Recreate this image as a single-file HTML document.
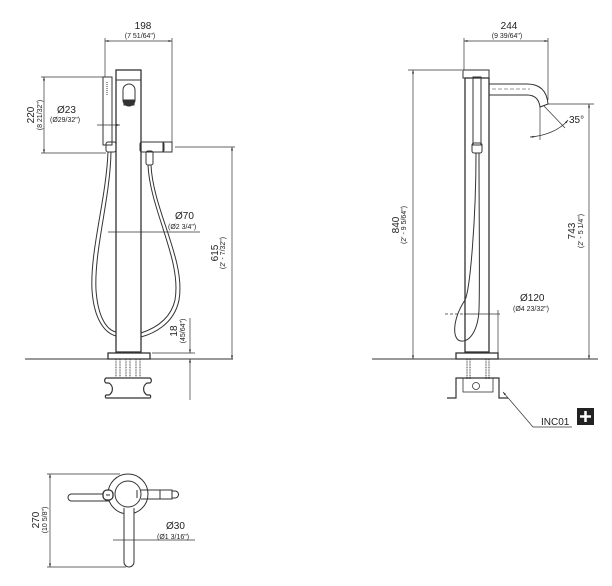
<!DOCTYPE html>
<html><head><meta charset="utf-8"><style>
html,body{margin:0;padding:0;background:#fff;}
svg{display:block;}
text{font-family:"Liberation Sans",sans-serif;fill:#222;}
.b{font-size:10px;}
.s{font-size:7px;}
</style></head><body>
<svg width="612" height="586" viewBox="0 0 612 586" xmlns="http://www.w3.org/2000/svg">
<defs>
<marker id="a" viewBox="0 0 10 10" refX="10" refY="5" markerWidth="5" markerHeight="5" orient="auto-start-reverse"><path d="M0,2L10,5L0,8z" fill="#333"/></marker>
</defs>
<g fill="none" stroke="#333" stroke-width="1">
<!-- LEFT VIEW -->
<line x1="25" y1="359" x2="233" y2="359"/>
<rect x="116" y="70" width="25" height="282" stroke-width="1.3"/>
<line x1="116" y1="80" x2="141" y2="80"/>
<rect x="123" y="84" width="12" height="22" rx="6"/>
<path d="M124,100h10v5h-10z" fill="#333"/>
<rect x="103" y="77" width="9" height="68"/>
<line x1="107" y1="82" x2="107" y2="96" stroke-dasharray="1,1"/>
<rect x="106" y="142" width="10" height="10" rx="2"/>
<rect x="140" y="142" width="24" height="10" rx="2"/>
<rect x="163" y="142" width="9" height="10"/>
<rect x="146" y="151" width="7" height="14" rx="2"/>
<path d="M108,152 C106,200 90,250 92,290 C94,320 105,333 116,336"/>
<path d="M111,152 C110,200 94,250 96,290 C98,318 107,330 116,332"/>
<path d="M148,165 C150,210 182,260 175,300 C170,322 150,330 141,333"/>
<path d="M151,165 C153,210 186,260 179,300 C174,325 152,334 141,337"/>
<rect x="108" y="353" width="42" height="6" stroke-width="1.3"/>
<path d="M116,359v18M120,359v18M126,359v18M130,359v18M136,359v18M140,359v18" stroke-dasharray="1,0.6" stroke-width="0.9"/>
<path d="M106,378h44a3,3 0 0 1 0,5h-3a7,7 0 0 0 0,12h3a2,2 0 0 1 0,3h-44a2,2 0 0 1 0,-3h3a7,7 0 0 0 0,-12h-3a3,3 0 0 1 0,-5z" stroke-width="1.2"/>
<!-- dims left -->
<line x1="105" y1="41" x2="172" y2="41" marker-start="url(#a)" marker-end="url(#a)" stroke-width="0.7"/>
<line x1="105" y1="38" x2="105" y2="77" stroke-width="0.7"/>
<line x1="172" y1="38" x2="172" y2="145" stroke-width="0.7"/>
<line x1="44" y1="77" x2="44" y2="153" marker-start="url(#a)" marker-end="url(#a)" stroke-width="0.7"/>
<line x1="41" y1="77" x2="103" y2="77" stroke-width="0.7"/>
<line x1="41" y1="153" x2="106" y2="153" stroke-width="0.7"/>
<line x1="97" y1="125" x2="120" y2="125" stroke-width="0.7" marker-end="url(#a)"/>
<line x1="175" y1="147" x2="235" y2="147" stroke-width="0.7"/>
<line x1="232" y1="147" x2="232" y2="359" marker-start="url(#a)" marker-end="url(#a)" stroke-width="0.7"/>
<line x1="108" y1="232" x2="200" y2="232" stroke-width="0.7"/>
<line x1="190" y1="318" x2="190" y2="353" stroke-width="0.7" marker-end="url(#a)"/>
<line x1="190" y1="359" x2="190" y2="400" stroke-width="0.7" marker-start="url(#a)"/>
<line x1="152" y1="353" x2="195" y2="353" stroke-width="0.7"/>
<!-- RIGHT VIEW -->
<line x1="372" y1="359" x2="598" y2="359"/>
<rect x="465" y="78" width="24" height="274" stroke-width="1.3"/>
<path d="M463,70h26v8h-26z"/>
<rect x="473" y="77" width="8" height="68"/>
<rect x="472" y="143" width="10" height="10" rx="2"/>
<path d="M489,84h38c14,0 20,8 21,20l-8,3c-1,-8 -5,-12 -13,-12h-38z"/>
<line x1="492" y1="89" x2="530" y2="89" stroke-dasharray="4,2" stroke-width="0.5"/>
<path d="M476,153 C476,220 470,290 465,300 C452,320 452,340 461,341 C470,342 478,330 479,310 C480,280 479,220 479,153"/>
<rect x="456" y="353" width="42" height="6" stroke-width="1.3"/>
<path d="M467,359v20M470,359v20M486,359v20M489,359v20" stroke-dasharray="1,0.6" stroke-width="0.9"/>
<path d="M447,398h9v-20h43v20h9" stroke-width="1.2"/>
<rect x="463" y="378" width="30" height="14" stroke-width="0.8"/>
<circle cx="476" cy="386" r="3.5" stroke-width="0.8"/>
<line x1="464" y1="314" x2="500" y2="314" stroke-width="0.7"/>
<line x1="445" y1="314" x2="464" y2="314" stroke-width="0.7" stroke-dasharray="3,2"/>
<line x1="498" y1="310" x2="498" y2="353" stroke-width="0.7"/>
<line x1="464" y1="41" x2="548" y2="41" marker-start="url(#a)" marker-end="url(#a)" stroke-width="0.7"/>
<line x1="464" y1="38" x2="464" y2="70" stroke-width="0.7"/>
<line x1="548" y1="38" x2="548" y2="100" stroke-width="0.7"/>
<line x1="413" y1="70" x2="413" y2="359" marker-start="url(#a)" marker-end="url(#a)" stroke-width="0.7"/>
<line x1="408" y1="70" x2="462" y2="70" stroke-width="0.7"/>
<line x1="548" y1="104" x2="594" y2="104" stroke-width="0.7"/>
<line x1="589" y1="104" x2="589" y2="359" marker-start="url(#a)" marker-end="url(#a)" stroke-width="0.7"/>
<line x1="540" y1="106" x2="540" y2="140" stroke-width="0.7"/>
<line x1="544" y1="106" x2="565" y2="128" stroke-width="0.7"/>
<path d="M530,137 C545,136 560,130 568,120" stroke-width="0.7" marker-start="url(#a)" marker-end="url(#a)"/>
<polyline points="572,427 533,427 503,392" stroke-width="0.7" marker-end="url(#a)"/>
<!-- TOP VIEW -->
<rect x="68" y="494" width="46" height="7" rx="3.5"/>
<circle cx="128" cy="494" r="20" fill="#fff"/>
<circle cx="128" cy="494" r="13"/>
<rect x="103" y="490" width="10" height="10" rx="4" fill="#fff" stroke-width="1.3"/>
<line x1="106" y1="495" x2="110" y2="495"/>
<line x1="137" y1="490" x2="137" y2="498"/>
<path d="M141,490h19v9h-19"/>
<rect x="160" y="490" width="12" height="9"/>
<path d="M172,491h3a3,3 0 0 1 0,7h-3"/>
<path d="M124,508v54a5,5 0 0 0 10,0v-54" fill="#fff"/>
<line x1="50" y1="474" x2="50" y2="567" marker-start="url(#a)" marker-end="url(#a)" stroke-width="0.7"/>
<line x1="47" y1="474" x2="120" y2="474" stroke-width="0.7"/>
<line x1="47" y1="567" x2="126" y2="567" stroke-width="0.7"/>
<line x1="113" y1="540" x2="195" y2="540" stroke-width="0.7"/>
</g>
<rect x="577" y="408" width="17" height="17" fill="#222"/>
<path d="M585.5,411v11M580,416.5h11" stroke="#fff" stroke-width="2.5"/>
<g>
<text class="b" x="143" y="29" text-anchor="middle">198</text>
<text class="s" x="140" y="38" text-anchor="middle">(7 51/64")</text>
<text class="b" transform="translate(34,115) rotate(-90)" text-anchor="middle">220</text>
<text class="s" transform="translate(42,115) rotate(-90)" text-anchor="middle">(8 21/32")</text>
<text class="b" x="57" y="113">Ø23</text>
<text class="s" x="50" y="122">(Ø29/32")</text>
<text class="b" x="175" y="219">Ø70</text>
<text class="s" x="168" y="229">(Ø2 3/4")</text>
<text class="b" transform="translate(218,253) rotate(-90)" text-anchor="middle">615</text>
<text class="s" transform="translate(225,253) rotate(-90)" text-anchor="middle">(2' - 7/32")</text>
<text class="b" transform="translate(177,331) rotate(-90)" text-anchor="middle">18</text>
<text class="s" transform="translate(185,331) rotate(-90)" text-anchor="middle">(45/64")</text>
<text class="b" x="509" y="29" text-anchor="middle">244</text>
<text class="s" x="507" y="38" text-anchor="middle">(9 39/64")</text>
<text class="b" x="569" y="123">35°</text>
<text class="b" transform="translate(399,225) rotate(-90)" text-anchor="middle">840</text>
<text class="s" transform="translate(406,225) rotate(-90)" text-anchor="middle">(2' - 9 5/64")</text>
<text class="b" transform="translate(575,231) rotate(-90)" text-anchor="middle">743</text>
<text class="s" transform="translate(583,231) rotate(-90)" text-anchor="middle">(2' - 5 1/4")</text>
<text class="b" x="520" y="301">Ø120</text>
<text class="s" x="513" y="311">(Ø4 23/32")</text>
<text class="b" x="541" y="425">INC01</text>
<text class="b" transform="translate(39,520) rotate(-90)" text-anchor="middle">270</text>
<text class="s" transform="translate(47,520) rotate(-90)" text-anchor="middle">(10 5/8")</text>
<text class="b" x="166" y="529">Ø30</text>
<text class="s" x="157" y="539">(Ø1 3/16")</text>
</g>
</svg>
</body></html>
